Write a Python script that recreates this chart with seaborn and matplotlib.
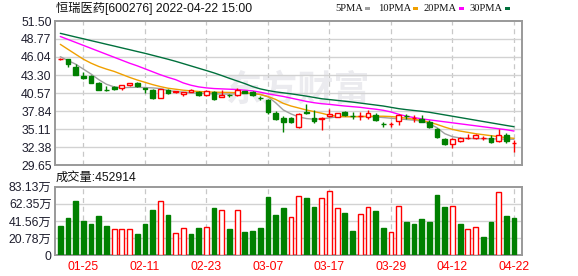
import numpy as np
import pandas as pd
import matplotlib
matplotlib.use("Agg")
import matplotlib.pyplot as plt
from matplotlib.patches import Rectangle
import seaborn as sns

# ---------------- data ----------------
opens = [45.70, 45.69, 44.52, 43.20, 43.15, 42.14, 41.00, 41.48, 41.29, 41.74,
         42.14, 41.33, 41.03, 39.86, 40.98, 40.68, 40.42, 40.73, 40.77, 40.32,
         40.73, 39.95, 40.25, 40.32, 40.83, 40.73, 39.88, 39.47, 37.50, 36.78,
         36.78, 35.42, 37.69, 36.83, 36.60, 37.08, 36.98, 37.69, 37.10, 37.10,
         36.98, 37.19, 35.85, 35.80, 36.33, 37.10, 36.80, 36.67, 36.22, 35.07,
         33.59, 32.79, 33.34, 33.70, 33.79, 33.75, 33.70, 33.34, 34.15, 32.94]
closes = [45.74, 45.02, 43.31, 42.85, 42.14, 41.08, 40.96, 41.18, 41.74, 42.05,
          41.68, 41.20, 39.85, 41.14, 40.62, 40.82, 40.73, 40.98, 40.23, 40.83,
          39.66, 40.20, 40.20, 41.03, 40.57, 40.23, 39.80, 37.65, 36.67, 36.13,
          36.17, 37.39, 37.50, 36.28, 36.75, 37.34, 37.50, 37.23, 37.05, 37.15,
          37.58, 36.43, 35.80, 35.85, 37.28, 37.05, 36.85, 36.22, 35.37, 33.94,
          32.79, 33.59, 33.70, 33.75, 34.15, 33.80, 33.14, 34.15, 33.24, 32.97]
highs = [45.85, 45.75, 44.97, 43.76, 43.31, 42.29, 41.59, 41.64, 41.80, 42.10,
         42.24, 41.35, 41.18, 41.18, 41.14, 40.90, 40.80, 41.18, 40.88, 40.98,
         40.83, 41.00, 40.48, 41.29, 40.90, 40.83, 40.10, 39.62, 37.84, 37.04,
         36.89, 37.50, 38.86, 37.99, 37.00, 38.10, 37.55, 37.89, 37.69, 37.69,
         37.95, 37.54, 36.22, 36.17, 37.39, 37.34, 37.24, 37.24, 36.48, 35.22,
         33.74, 33.79, 33.94, 34.30, 34.30, 34.00, 34.15, 35.17, 34.46, 33.44]
lows = [45.60, 44.57, 43.31, 42.65, 42.05, 41.03, 40.92, 41.03, 40.96, 41.70,
        41.53, 40.62, 39.66, 39.77, 40.47, 40.60, 40.07, 40.70, 40.07, 40.17,
        39.47, 39.90, 39.92, 40.17, 40.50, 40.10, 39.50, 37.43, 36.48, 34.70,
        36.07, 35.26, 37.39, 36.07, 34.90, 36.89, 36.90, 37.08, 36.68, 36.53,
        36.68, 36.37, 35.37, 35.45, 35.76, 36.60, 36.13, 36.13, 35.30, 33.79,
        32.68, 32.23, 33.19, 33.65, 33.60, 33.44, 32.94, 33.14, 32.94, 31.58]

ma5 = [46.08, 45.50, 44.95, 44.20, 43.45, 42.60, 41.90, 41.50, 41.38, 41.42,
       41.44, 41.40, 41.35, 41.25, 40.95, 40.80, 40.70, 40.60, 40.55, 40.50,
       40.45, 40.42, 40.42, 40.45, 40.50, 40.50, 40.35, 40.00, 39.10, 38.00,
       37.40, 36.95, 36.70, 36.60, 36.65, 36.80, 36.95, 37.00, 37.00, 37.00,
       37.00, 36.95, 36.85, 36.75, 36.65, 36.55, 36.45, 36.30, 35.90, 35.30,
       34.40, 33.95, 33.75, 33.68, 33.65, 33.65, 33.62, 33.60, 33.57, 33.55]
ma10 = [47.96, 47.20, 46.45, 45.70, 45.10, 44.60, 44.20, 43.85, 43.40, 42.95,
        42.55, 42.20, 41.85, 41.55, 41.30, 41.15, 41.00, 40.90, 40.80, 40.75,
        40.70, 40.68, 40.66, 40.62, 40.58, 40.52, 40.35, 40.05, 39.60, 39.00,
        38.60, 38.30, 38.00, 37.75, 37.50, 37.20, 37.05, 36.98, 36.98, 37.00,
        37.03, 37.05, 37.05, 37.00, 36.90, 36.75, 36.60, 36.40, 36.15, 35.80,
        35.40, 35.05, 34.80, 34.60, 34.40, 34.25, 34.10, 33.95, 33.80, 33.70]
ma20 = [49.15, 48.70, 48.25, 47.80, 47.35, 46.90, 46.45, 46.00, 45.55, 45.10,
        44.70, 44.25, 43.80, 43.35, 42.95, 42.60, 42.10, 41.75, 41.50, 41.35,
        41.25, 41.20, 41.15, 41.10, 41.00, 40.90, 40.70, 40.45, 40.25, 40.05,
        39.80, 39.55, 39.30, 39.10, 38.95, 38.85, 38.72, 38.60, 38.50, 38.40,
        38.25, 38.12, 37.95, 37.70, 37.35, 37.05, 36.85, 36.65, 36.50, 36.35,
        36.20, 36.05, 35.90, 35.75, 35.60, 35.45, 35.30, 35.15, 35.00, 34.80]
ma30 = [49.63, 49.35, 49.07, 48.80, 48.52, 48.25, 47.97, 47.70, 47.42, 47.15,
        46.87, 46.60, 46.30, 46.00, 45.70, 45.38, 45.03, 44.68, 44.33, 43.98,
        43.62, 43.22, 42.80, 42.40, 42.00, 41.55, 41.20, 40.95, 40.75, 40.60,
        40.45, 40.28, 40.10, 39.90, 39.70, 39.58, 39.45, 39.33, 39.20, 39.05,
        38.90, 38.75, 38.60, 38.40, 38.20, 38.05, 37.92, 37.80, 37.65, 37.45,
        37.25, 37.05, 36.85, 36.65, 36.45, 36.25, 36.05, 35.85, 35.65, 35.46]

volume_wan = [35.5, 45.2, 65.8, 41.6, 37.9, 47.6, 35.5, 31.5, 31.5, 31.5,
              25.8, 37.9, 54.9, 65.8, 48.8, 26.7, 32.7, 25.8, 33.0, 33.9,
              57.3, 54.9, 31.9, 54.9, 28.7, 29.9, 33.0, 70.6, 48.8, 57.3,
              46.0, 71.5, 69.4, 58.5, 69.0, 77.5, 56.9, 51.3, 29.4, 49.7,
              58.1, 53.7, 33.0, 27.9, 59.4, 40.3, 37.9, 43.6, 40.3, 73.0,
              58.5, 59.4, 37.9, 31.5, 33.9, 22.2, 40.3, 76.3, 47.6, 45.29]
volume_up = [0, 0, 0, 0, 0, 0, 0, 1, 1, 1,
             0, 0, 0, 1, 0, 1, 1, 0, 0, 1,
             0, 1, 0, 1, 0, 0, 0, 0, 0, 0,
             1, 1, 0, 0, 1, 1, 1, 0, 0, 1,
             1, 0, 0, 1, 1, 0, 0, 0, 0, 0,
             0, 1, 0, 1, 1, 0, 0, 1, 0, 0]

date_tick_pos = [3, 11, 19, 27, 35, 43, 51, 59]
date_tick_labels = ["01-25", "02-11", "02-23", "03-07", "03-17", "03-29", "04-12", "04-22"]
price_ticks = [51.50, 48.77, 46.04, 43.30, 40.57, 37.84, 35.11, 32.38, 29.65]
vol_ticks = [0, 20.78, 41.56, 62.35, 83.13]
vol_tick_labels = ["0", "20.78万", "41.56万", "62.35万", "83.13万"]
ma_names = ["5PMA", "10PMA", "20PMA", "30PMA"]
ma_colors = ["#a0a0a0", "#f0a000", "#ff00ff", "#00703c"]
title_text = "恒瑞医药[600276] 2022-04-22 15:00"
vol_title = "成交量:452914"

# ---------------- style ----------------
sns.set_style("white")
plt.rcParams["font.family"] = ["Liberation Sans", "Noto Sans CJK SC", "DejaVu Sans"]

RED = "#ff0000"
GREEN = "#008000"
GRID = "#d2d2d2"
SPINE = "#999999"
TXT = "#1e1e2e"

W, H = 578, 276
fig = plt.figure(figsize=(W / 100, H / 100), dpi=100)
fig.patch.set_facecolor("white")

def fx(px):
    return px / W

def fy(py):
    return 1 - py / H

L, R = 55, 522
ax1 = fig.add_axes([fx(L), fy(165), fx(R - L), (165 - 21) / H])
ax2 = fig.add_axes([fx(L), fy(255.3), fx(R - L), (255.3 - 186.7) / H])

n = len(closes)
idx = np.arange(n)
xlim = (-0.69, 60.04)

for ax in (ax1, ax2):
    ax.set_xlim(*xlim)
    ax.set_facecolor("white")
    for s in ax.spines.values():
        s.set_color(SPINE)
        s.set_linewidth(1.4)
    ax.tick_params(length=0)
    for p in date_tick_pos:
        ax.axvline(p, color="#c8c8c8", lw=0.9, ls=(0, (4, 3)), zorder=0.5)

# watermark
ax1.text(0.52, 0.52, "东方财富", transform=ax1.transAxes, fontsize=26,
         color="#ebebef", ha="center", va="center", zorder=0.2,
         family=["Noto Sans CJK SC"], style="italic", fontweight="bold")

# price axis
ax1.set_ylim(29.65, 51.50)
ax1.set_yticks(price_ticks)
ax1.set_yticklabels([f"{v:.2f}" for v in price_ticks], fontsize=8.8, color=TXT)
ax1.tick_params(axis="y", pad=2.5)
ax1.set_xticks([])
for v in price_ticks[1:-1]:
    ax1.axhline(v, color=GRID, lw=1.0, zorder=0.6)

# MA lines via seaborn
ma_df = pd.DataFrame({"i": idx, "5PMA": ma5, "10PMA": ma10, "20PMA": ma20, "30PMA": ma30})
ma_long = ma_df.melt(id_vars="i", var_name="ma", value_name="v")
sns.lineplot(data=ma_long, x="i", y="v", hue="ma", hue_order=ma_names,
             palette=dict(zip(ma_names, ma_colors)), linewidth=1.0,
             legend=False, ax=ax1, zorder=2)
ax1.set_xlabel("")
ax1.set_ylabel("")
ax1.set_xlim(*xlim)

# candles
bw = 0.62
o = np.array(opens); c = np.array(closes); h = np.array(highs); lo = np.array(lows)
up = c >= o
top = np.maximum(o, c); bot = np.minimum(o, c)
body = np.maximum(top - bot, 0.02)
for is_up, col, face in ((True, RED, "white"), (False, GREEN, GREEN)):
    m = up == is_up
    ax1.vlines(idx[m], top[m], h[m], color=col, lw=1.0, zorder=3)
    ax1.vlines(idx[m], lo[m], bot[m], color=col, lw=1.0, zorder=3)
    ax1.bar(idx[m], body[m], bottom=bot[m], width=bw, facecolor=face,
            edgecolor=col, linewidth=1.0, zorder=4)

# volume axis
vol = np.array(volume_wan)
vup = np.array(volume_up, dtype=bool)
ax2.set_ylim(0, 83.13)
ax2.set_yticks(vol_ticks)
ax2.set_yticklabels(vol_tick_labels, fontsize=8.8, color=TXT)
ax2.tick_params(axis="y", pad=2.5)
for v in vol_ticks[1:-1]:
    ax2.axhline(v, color=GRID, lw=1.0, zorder=0.6)
ax2.bar(idx[~vup], vol[~vup], width=bw, facecolor=GREEN, edgecolor=GREEN, linewidth=1.0, zorder=3)
ax2.bar(idx[vup], vol[vup], width=bw, facecolor="white", edgecolor=RED, linewidth=1.0, zorder=3)
ax2.set_xticks(date_tick_pos)
ax2.set_xticklabels(date_tick_labels, fontsize=8.8, color=RED)
ax2.tick_params(axis="x", pad=4)

# titles
fig.text(fx(56), fy(8.5), title_text, fontsize=8.8, color="#111111", va="center", ha="left")
fig.text(fx(56), fy(178), vol_title, fontsize=8.8, color="#111111", va="center", ha="left")

# legend: label right-aligned just left of its colour swatch
sq_x = [365, 413, 459, 505]
for name, col, x0 in zip(ma_names, ma_colors, sq_x):
    fig.text(fx(x0 - 2), fy(8.5), name, fontsize=7.6, color="#111111",
             va="center", ha="right", family=["Liberation Serif"])
    fig.patches.append(Rectangle((fx(x0), fy(10)), 5 / W, 2.5 / H,
                                 transform=fig.transFigure, facecolor=col,
                                 edgecolor="none"))

fig.savefig("out.png", dpi=100, facecolor="white")
